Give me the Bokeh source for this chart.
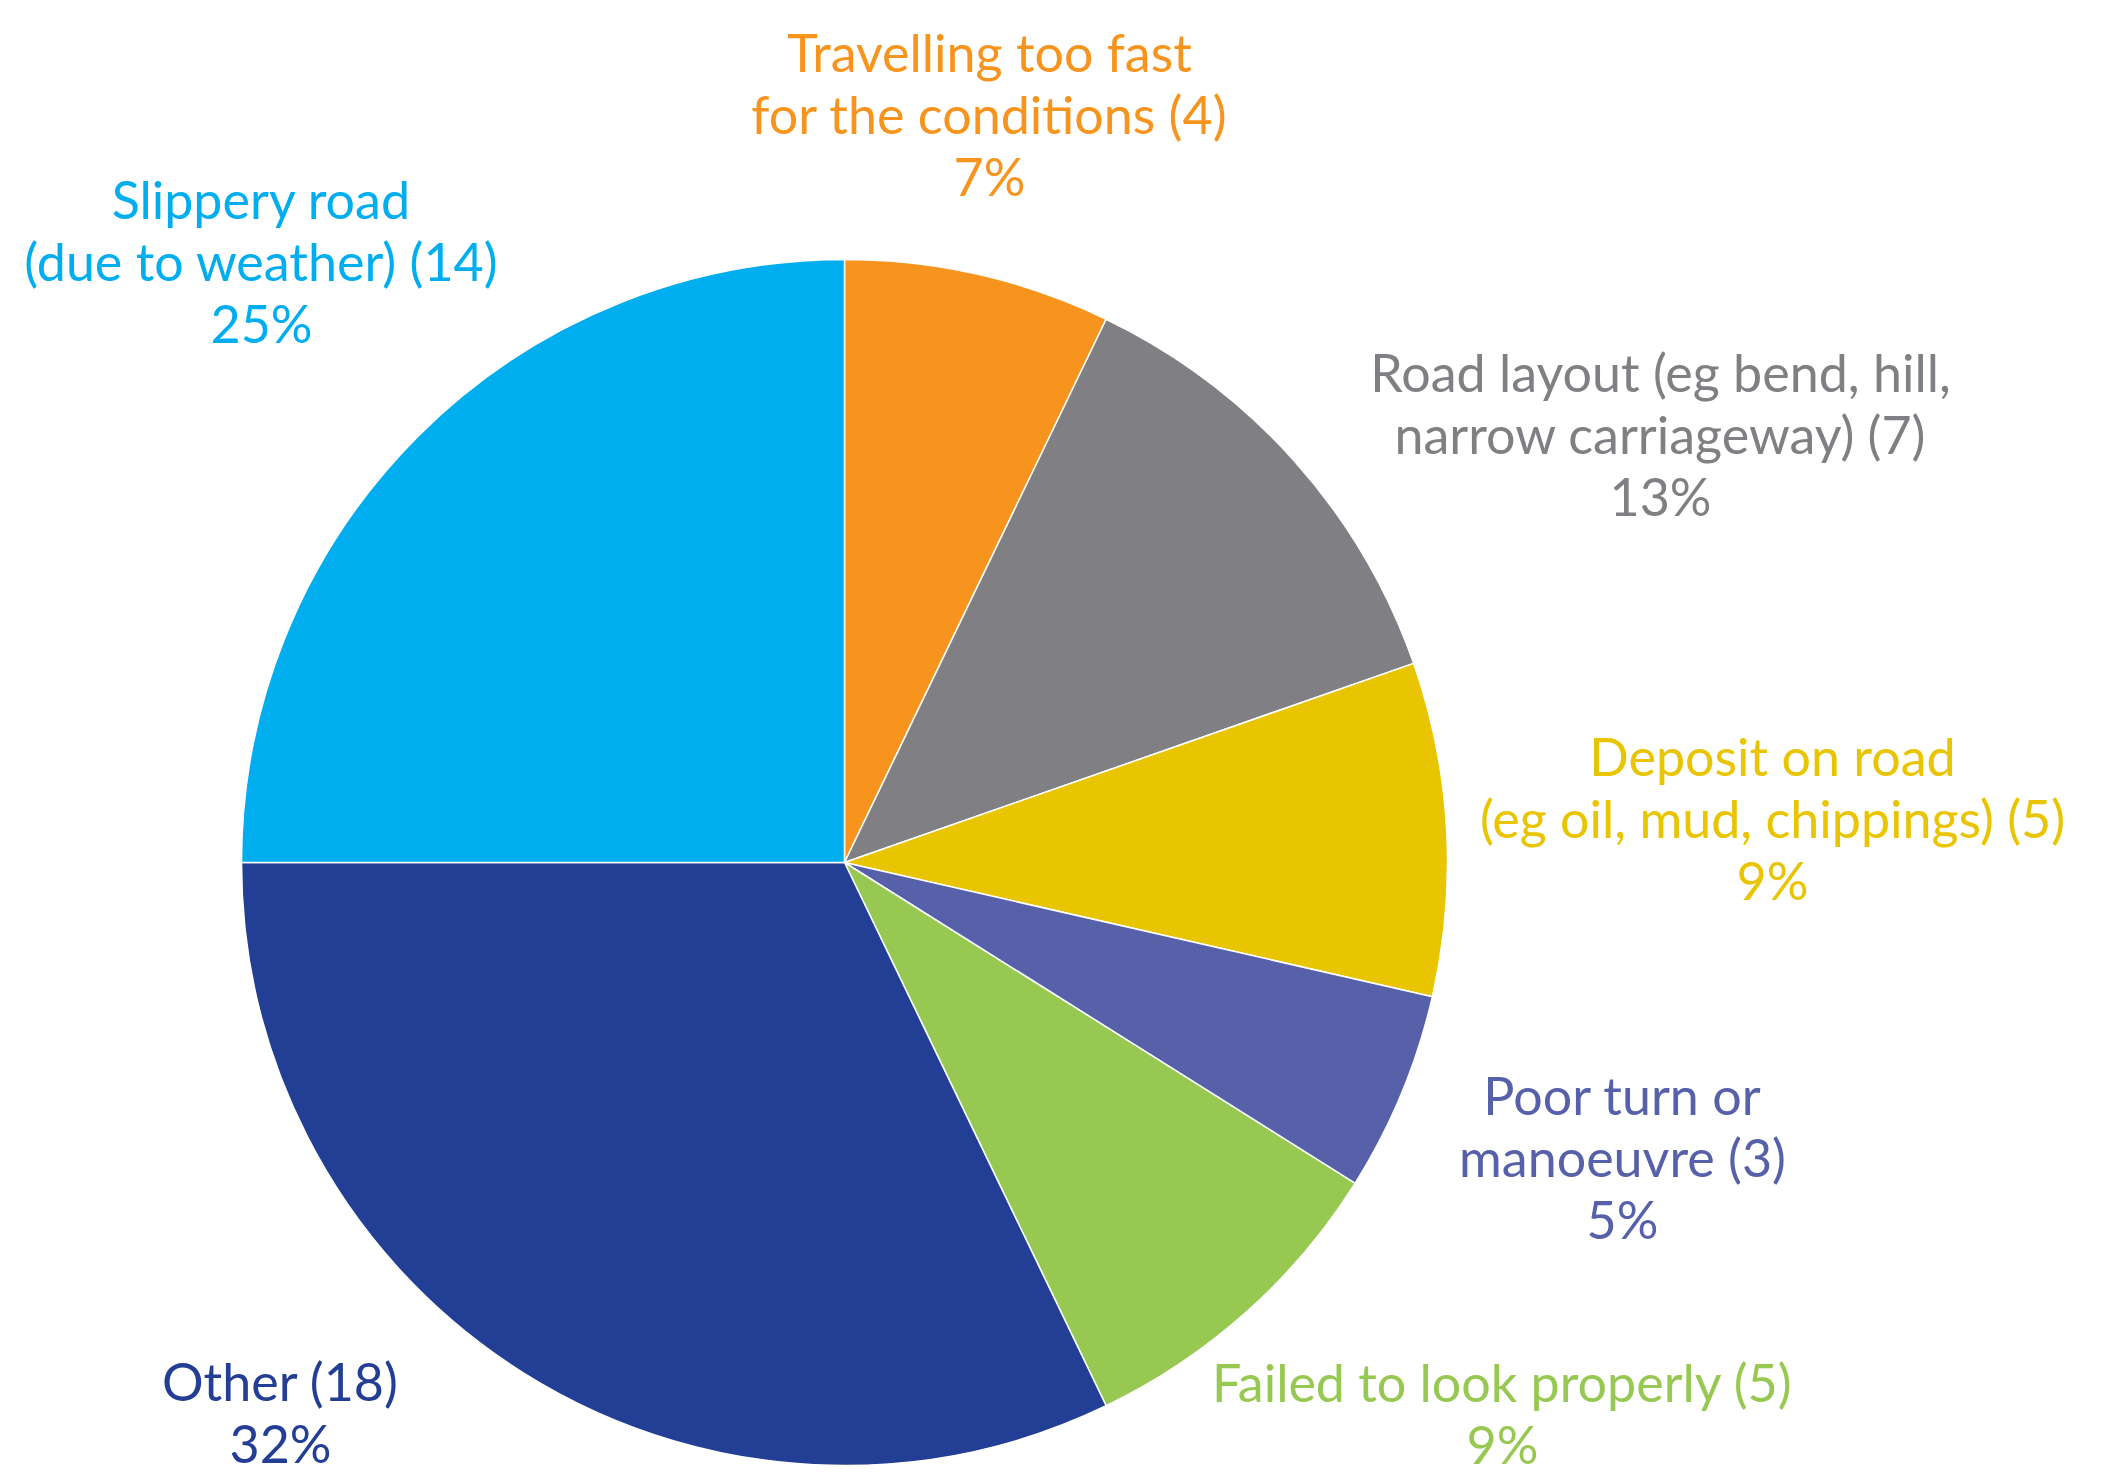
import math
from bokeh.plotting import figure
from bokeh.models import ColumnDataSource, Range1d
from bokeh.core.properties import value
from bokeh.embed import file_html
from bokeh.resources import INLINE

# ---- data ----
categories = [
    "Travelling too fast\nfor the conditions",
    "Road layout (eg bend, hill,\nnarrow carriageway)",
    "Deposit on road\n(eg oil, mud, chippings)",
    "Poor turn or\nmanoeuvre",
    "Failed to look properly",
    "Other",
    "Slippery road\n(due to weather)",
]
counts = [4, 7, 5, 3, 5, 18, 14]
colors = ["#F7941E", "#808084", "#E9C400", "#5761AA", "#97C852", "#233E95", "#00AEEF"]

# ---- layout ----
W, H = 2111, 1480
CX, CY, R = 844, 862, 603          # pie centre / radius in screen pixels
FONT = "Lato"
FS = 52
LINE = 62
YSHIFT = -21                        # correction for rendered baseline
# label anchor: (centre x, first-line baseline y) in screen pixels
label_pos = [(989, 72), (1660, 392), (1772, 776), (1622, 1115),
             (1502, 1402), (280, 1401), (261, 219)]

total = sum(counts)
starts, ends = [], []
acc = 0
for c in counts:
    a0 = math.pi / 2 - 2 * math.pi * acc / total
    acc += c
    a1 = math.pi / 2 - 2 * math.pi * acc / total
    starts.append(a0)
    ends.append(a1)

src = ColumnDataSource(dict(x=[CX] * len(counts), y=[H - CY] * len(counts),
                            start=starts, end=ends, color=colors))

p = figure(width=W, height=H, x_range=Range1d(0, W), y_range=Range1d(0, H),
           output_backend="svg", toolbar_location=None, min_border=0,
           background_fill_color="white", border_fill_color="white")
p.axis.visible = False
p.grid.visible = False
p.outline_line_color = None

p.wedge(x="x", y="y", radius=R, radius_units="data", start_angle="start", end_angle="end",
        direction="clock", fill_color="color", line_color="white", line_width=1.5, source=src)

tx, ty, tt, tc = [], [], [], []
for name, cnt, col, (lx, ly) in zip(categories, counts, colors, label_pos):
    pct = int(math.floor(cnt / total * 100 + 0.5))
    lines = (name + f" ({cnt})").split("\n") + [f"{pct}%"]
    for i, ln in enumerate(lines):
        tx.append(lx)
        ty.append(H - (ly + i * LINE + YSHIFT))
        tt.append(ln)
        tc.append(col)

tsrc = ColumnDataSource(dict(x=tx, y=ty, text=tt, color=tc))
p.text(x="x", y="y", text="text", text_color="color", source=tsrc,
       text_font=value(FONT), text_font_size=f"{FS}px",
       text_align="center", text_baseline="alphabetic")

open("out.html", "w").write(file_html(p, INLINE))
